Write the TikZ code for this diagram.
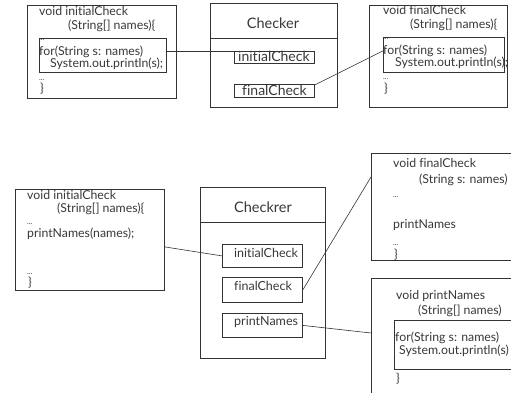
\documentclass[tikz,border=0pt]{standalone}
\usepackage{fontspec}
\setmainfont{Lato}[Ligatures=NoCommon]
\definecolor{linec}{HTML}{333333}
\definecolor{textc}{HTML}{383838}
\begin{document}
\begin{tikzpicture}[x=1pt,y=-1pt,
  box/.style={draw=linec, line width=0.8pt, anchor=north west, inner sep=0pt},
  code/.style={anchor=base west, inner sep=0pt, text=textc, font=\fontsize{12.3}{13}\selectfont},
  mlabel/.style={anchor=base west, inner sep=0pt, text=textc},
  title/.style={inner sep=0pt, text=textc, font=\fontsize{14.5}{15}\selectfont},
  conn/.style={draw=linec, line width=0.6pt}]
\useasboundingbox (0,0) rectangle (511,393);
\clip (0,0) rectangle (511,393);
% ---------- top part ----------
\node[box, minimum width=149pt, minimum height=93pt] (b1) at (27,5) {};
\node[box, minimum width=127pt, minimum height=34pt] (i1) at (39,38) {};
\node[code] (t1a) at (39,16) {void initialCheck};
\node[code] (t1b) at (68,30) {(String[] names)\{};
\node[code] (t1c) at (39,41) {\fontsize{7.5}{7.5}\selectfont ...};
\node[code] (t1d) at (39,56) {for(String s: names)};
\node[code] (t1e) at (50,68) {System.out.println(s);};
\node[code] (t1f) at (39,81) {\fontsize{7.5}{7.5}\selectfont ...};
\node[code] (t1g) at (40,93) {\}};

\node[box, minimum width=127pt, minimum height=104pt] (chk) at (210,3) {};
\coordinate (d1l) at (210,38);
\coordinate (d1r) at (337,38);
\draw[linec, line width=0.8pt] (d1l) -- (d1r);
\node[title] (chkt) at (273,23) {Checker};
\node[box, minimum width=80pt, minimum height=12pt] (ic1) at (234,51) {};
\node[mlabel, font=\fontsize{14}{14}\selectfont] (ic1t) at (238,62) {initialCheck};
\node[box, minimum width=80pt, minimum height=13pt] (fc1) at (234,84) {};
\node[mlabel, font=\fontsize{14}{14}\selectfont] (fc1t) at (242,96) {finalCheck};

\node[box, minimum width=138pt, minimum height=102pt] (b3) at (369,5) {};
\node[box, minimum width=121pt, minimum height=35pt] (i3) at (383,37) {};
\node[code] (t3a) at (383,15) {void finalCheck};
\node[code] (t3b) at (410,29) {(String[] names)\{};
\node[code] (t3c) at (383,40) {\fontsize{7.5}{7.5}\selectfont ...};
\node[code] (t3d) at (383,55) {for(String s: names)};
\node[code] (t3e) at (395,67) {System.out.println(s);};
\node[code] (t3f) at (383,80) {\fontsize{7.5}{7.5}\selectfont ...};
\node[code] (t3g) at (384,93) {\}};

\draw[conn] (i1.east |- ic1.north west) -- (ic1.north west);
\draw[conn] ([yshift=-1pt]fc1.north east) -- ([yshift=4pt]i3.west);

% ---------- bottom part ----------
\node[box, minimum width=149pt, minimum height=101pt] (b4) at (15,189) {};
\node[code] (t4a) at (27,199) {void initialCheck};
\node[code] (t4b) at (57,212) {(String[] names)\{};
\node[code] (t4c) at (27,224) {\fontsize{7.5}{7.5}\selectfont ...};
\node[code] (t4d) at (27,237) {printNames(names);};
\node[code] (t4e) at (27,274) {\fontsize{7.5}{7.5}\selectfont ...};
\node[code] (t4f) at (28,286) {\}};

\node[box, minimum width=125pt, minimum height=171pt] (chk2) at (200,187) {};
\coordinate (d2l) at (200,222);
\coordinate (d2r) at (325,222);
\draw[linec, line width=0.8pt] (d2l) -- (d2r);
\node[title] (chk2t) at (263,207) {Checkrer};
\node[box, minimum width=80pt, minimum height=23pt] (ic2) at (222,244) {};
\node[mlabel, font=\fontsize{12.5}{13}\selectfont] (ic2t) at (234,257) {initialCheck};
\node[box, minimum width=80pt, minimum height=25pt] (fc2) at (222,277) {};
\node[mlabel, font=\fontsize{12.5}{13}\selectfont] (fc2t) at (234,290) {finalCheck};
\node[box, minimum width=80pt, minimum height=24pt] (pn2) at (222,313) {};
\node[mlabel, font=\fontsize{12.5}{13}\selectfont] (pn2t) at (234,325) {printNames};

\node[box, minimum width=150pt, minimum height=107pt] (b5) at (371,153) {};
\node[code] (t5a) at (393,167) {void finalCheck};
\node[code] (t5b) at (419,183) {(String s: names)};
\node[code] (t5c) at (393,197) {\fontsize{7.5}{7.5}\selectfont ...};
\node[code] (t5d) at (393,228) {printNames};
\node[code] (t5e) at (393,245) {\fontsize{7.5}{7.5}\selectfont ...};
\node[code] (t5f) at (394,258) {\}};

\node[box, minimum width=150pt, minimum height=130pt] (b6) at (371,278) {};
\node[box, minimum width=125pt, minimum height=49pt] (i6) at (394,320) {};
\node[code] (t6a) at (396,299) {void printNames};
\node[code] (t6b) at (418,314) {(String[] names)};
\node[code] (t6c) at (395,341) {for(String s: names)};
\node[code] (t6d) at (399,354) {System.out.println(s)};
\node[code] (t6e) at (396,382) {\}};

\draw[conn] ([yshift=-7pt]b4.east) -- (ic2.west);
\draw[conn] (fc2.east) -- ([yshift=-24pt]b5.north west);
\draw[conn] (pn2.east) -- ([yshift=-55pt]b6.north west);
\end{tikzpicture}
\end{document}
